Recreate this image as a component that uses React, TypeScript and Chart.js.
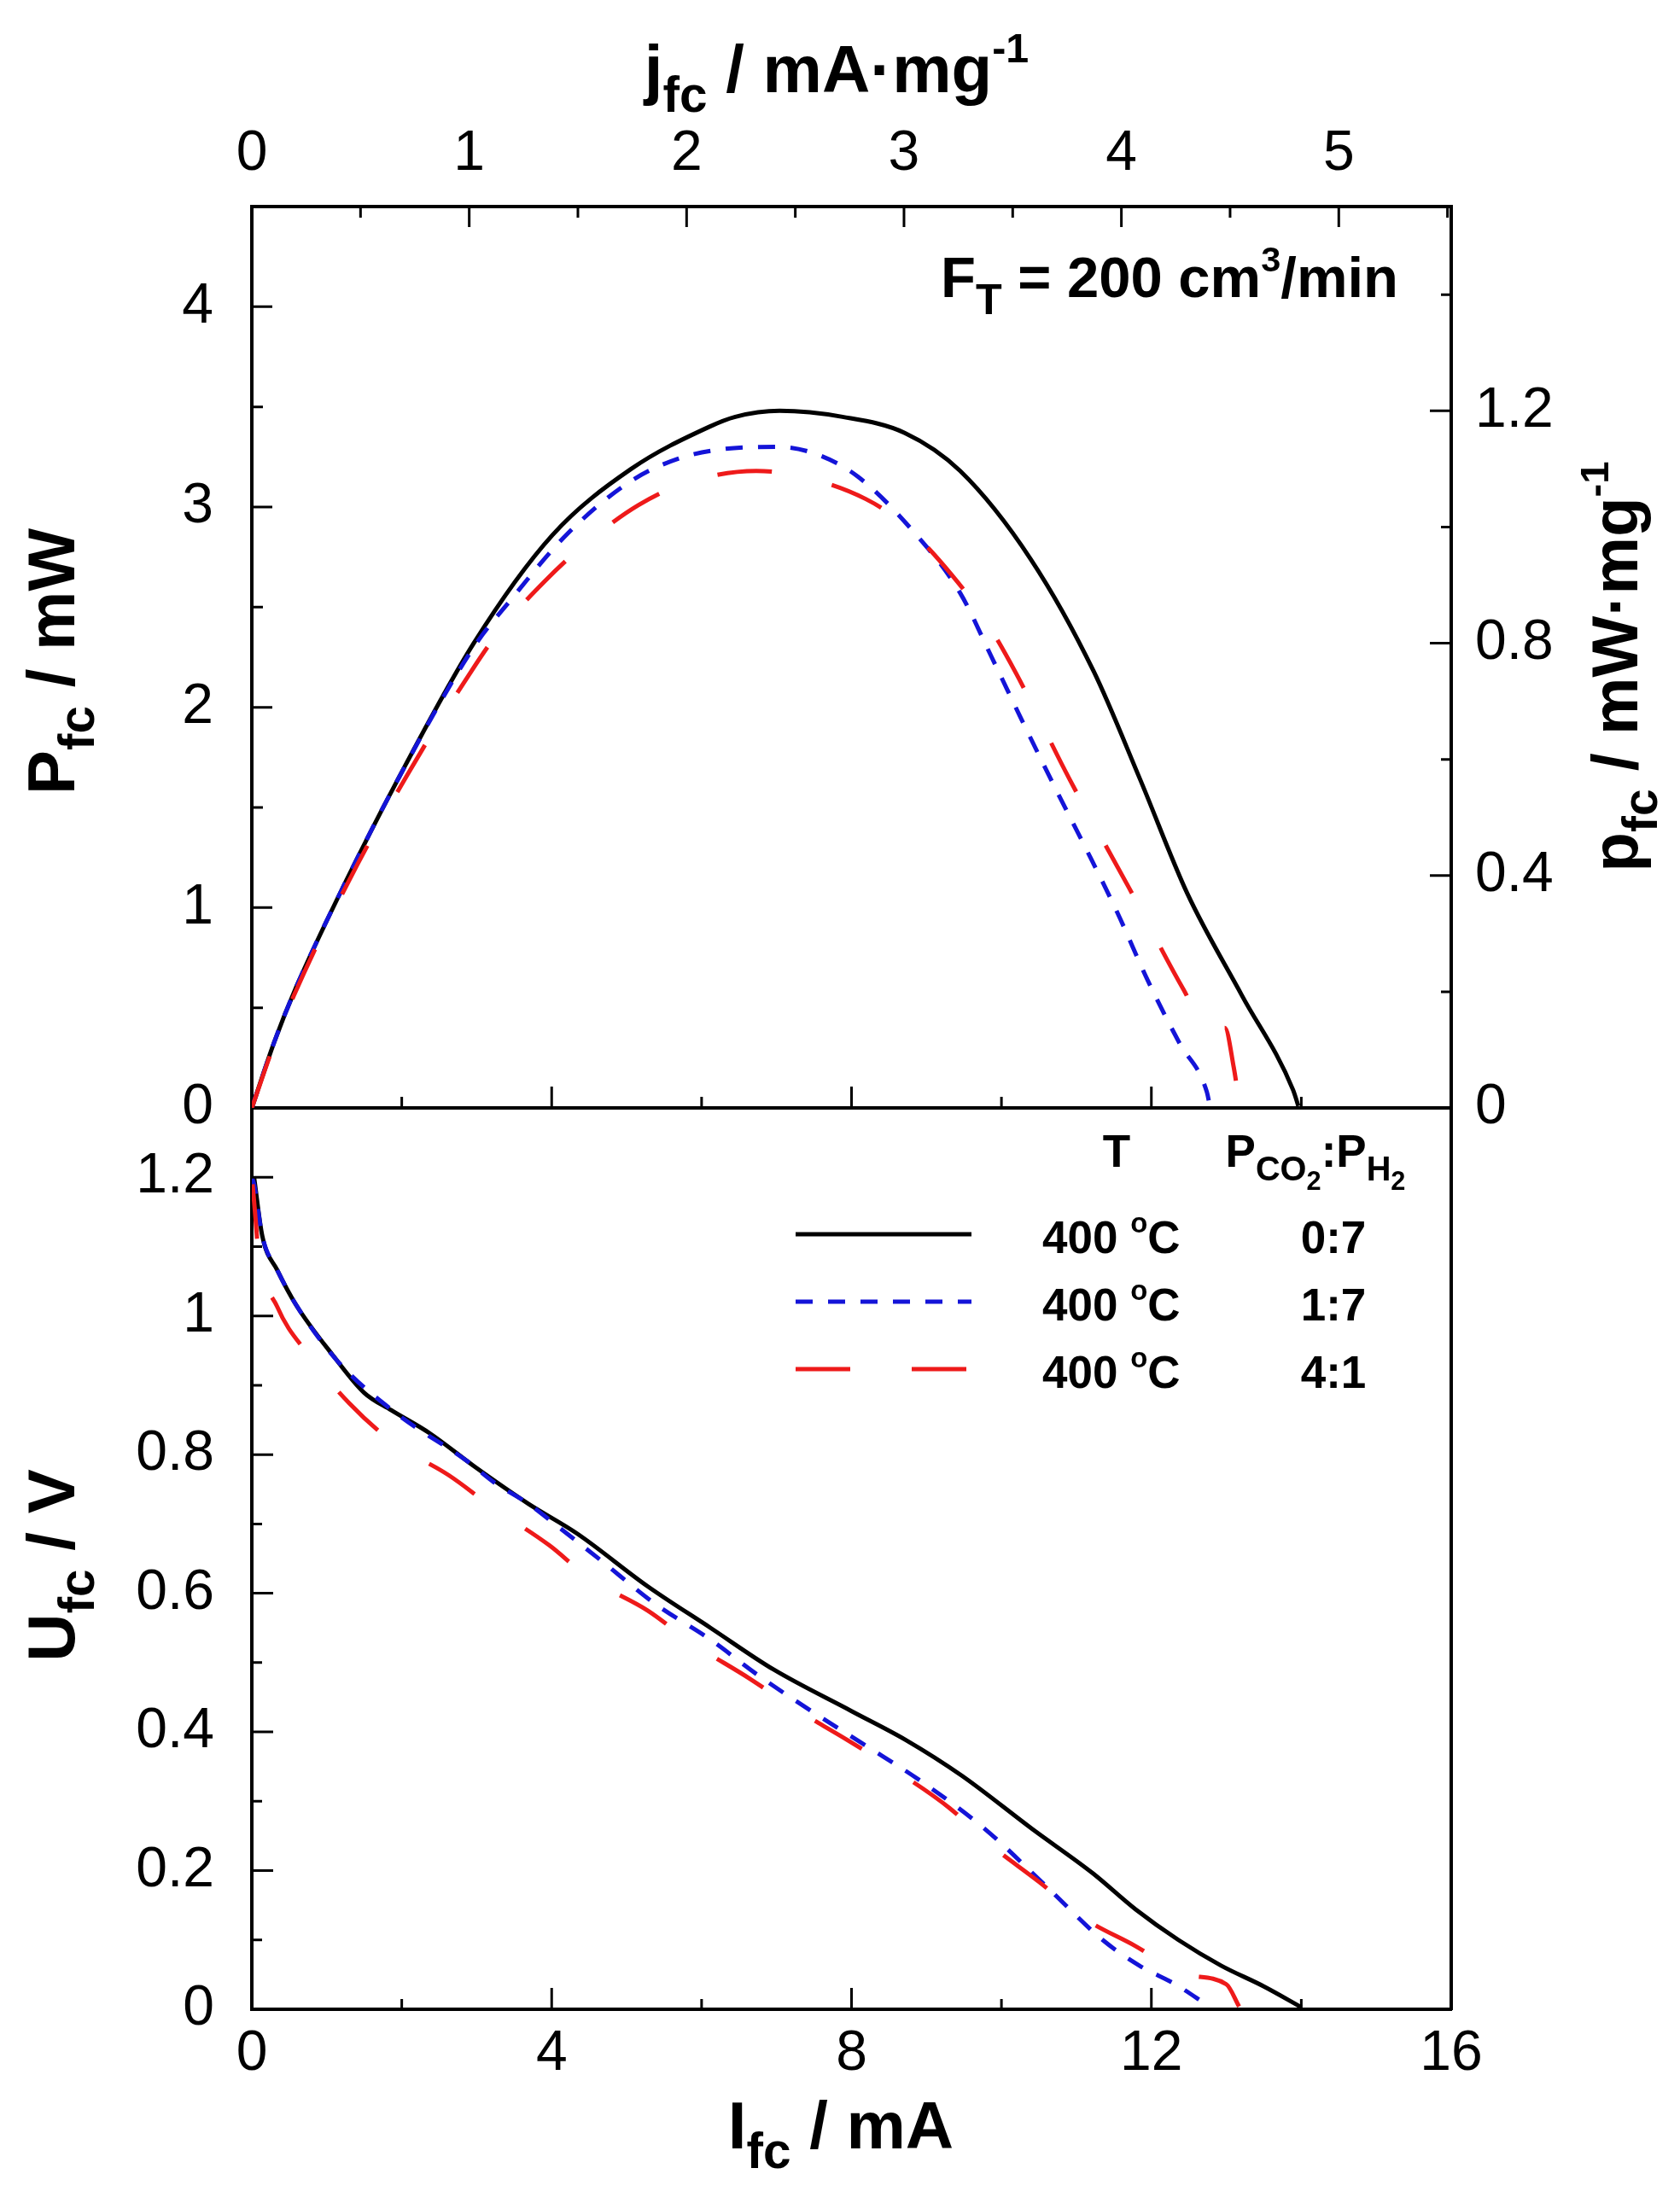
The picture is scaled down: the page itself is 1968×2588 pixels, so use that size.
// ── Fuel cell P/U vs I — two stacked panels ─────────────────

import { useEffect, useRef } from "react"
import Chart from "chart.js/auto"

// ── Page geometry (px) ───────────────────────────────────────
const W      = 1968
const H      = 2588
const LEFT   = 295
const RIGHT  = 1700
const TOP    = 242
const MID    = 1298
const BOTTOM = 2354

const FONT   = "'Liberation Sans', Arial, Helvetica, sans-serif"
const BLACK  = "#000000"
const BLUE   = "#1414d8"
const RED    = "#ee1a1a"
const LINE_W = 5
const DASH_BLUE = [20, 18]
const DASH_RED  = [64, 72]

// catalyst mass (mg), links I -> j and P -> p on the secondary axes
const MASS  = 2.9
const I_MAX = 16
const P_MAX = 4.5
const U_MAX = 1.3

// ── Data: [I_fc (mA), value] ─────────────────────────────────
const P_07: [number, number][] = [
  [0, 0], [0.3, 0.33], [0.6, 0.61], [1.24, 1.12], [1.92, 1.62], [2.96, 2.32],
  [4.01, 2.86], [5.06, 3.19], [6.1, 3.4], [6.45, 3.45], [7.04, 3.48], [7.88, 3.45],
  [8.71, 3.37], [9.45, 3.18], [10.39, 2.74], [11.23, 2.18], [11.85, 1.64],
  [12.48, 1.07], [13.21, 0.56], [13.89, 0.09], [13.96, 0.01],
]
const P_17: [number, number][] = [
  [0, 0], [0.3, 0.33], [0.6, 0.61], [1.24, 1.12], [1.92, 1.62], [2.96, 2.3],
  [3.44, 2.53], [4.22, 2.87], [5.06, 3.13], [5.68, 3.24], [6.31, 3.29], [7.04, 3.3],
  [7.56, 3.26], [8.09, 3.15], [8.82, 2.88], [9.45, 2.57], [9.87, 2.25], [10.28, 1.93],
  [10.7, 1.61], [11.12, 1.3], [11.54, 0.98], [11.96, 0.63], [12.38, 0.32],
  [12.74, 0.08], [12.78, 0.01],
]
const P_41: [number, number][] = [
  [0, 0], [0.3, 0.32], [0.56, 0.56], [1.29, 1.13], [2.07, 1.66], [2.91, 2.17],
  [3.28, 2.37], [3.91, 2.63], [4.43, 2.81], [5.16, 3.01], [5.79, 3.12], [6.73, 3.18],
  [7.36, 3.15], [8.19, 3.04], [8.71, 2.91], [9.34, 2.66], [9.76, 2.45], [10.18, 2.18],
  [10.91, 1.64], [11.7, 1.1], [12.43, 0.59], [12.79, 0.37], [12.98, 0.4],
  [13.1, 0.2], [13.17, 0.03],
]

const U_07: [number, number][] = [
  [0.03, 1.2], [0.14, 1.115], [0.34, 1.066], [0.59, 1.016], [1.09, 0.942], [1.5, 0.889],
  [1.86, 0.864], [2.37, 0.831], [2.98, 0.782], [3.69, 0.729], [4.34, 0.686], [5.28, 0.61],
  [6.12, 0.55], [6.96, 0.49], [8.0, 0.43], [8.73, 0.388], [9.47, 0.337], [10.41, 0.26],
  [11.22, 0.196], [11.79, 0.144], [12.36, 0.1], [12.93, 0.063], [13.5, 0.033], [14.0, 0.003],
]
const U_17: [number, number][] = [
  [0, 1.2], [0.03, 1.19], [0.14, 1.115], [0.34, 1.066], [0.59, 1.016], [1.15, 0.934],
  [1.92, 0.86], [2.88, 0.79], [3.23, 0.76], [3.69, 0.729], [4.04, 0.7], [4.65, 0.648],
  [5.39, 0.584], [6.12, 0.533], [6.75, 0.482], [7.58, 0.422], [8.21, 0.379], [8.94, 0.328],
  [9.78, 0.26], [10.62, 0.175], [11.35, 0.1], [11.84, 0.063], [12.32, 0.036], [12.76, 0.005],
]
const U_41: [number, number][] = [
  [0.01, 1.19], [0.05, 1.14], [0.08, 1.1], [0.34, 1.013], [0.74, 0.946], [1.3, 0.874],
  [1.88, 0.818], [2.63, 0.77], [3.2, 0.725], [3.97, 0.669], [4.5, 0.622], [5.28, 0.575],
  [5.86, 0.529], [6.64, 0.477], [7.22, 0.435], [7.95, 0.388], [8.58, 0.345], [9.31, 0.29],
  [9.83, 0.239], [10.51, 0.183], [11.09, 0.132], [11.79, 0.091], [12.45, 0.05],
  [13.0, 0.036], [13.17, 0.004],
]

// legend text
const TEMPS  = ["400", "400", "400"]
const RATIOS = ["0:7", "1:7", "4:1"]

// inward tick marks
const J_MAJOR  = [1, 2, 3, 4, 5]
const J_MINOR  = [0.5, 1.5, 2.5, 3.5, 4.5, 5.5]
const I_MAJOR  = [4, 8, 12]
const I_MINOR  = [2, 6, 10, 14]
const P_MAJOR  = [1, 2, 3, 4]
const P_MINOR  = [0.5, 1.5, 2.5, 3.5]
const PM_MAJOR = [0.4, 0.8, 1.2]
const PM_MINOR = [0.2, 0.6, 1.0, 1.4]
const U_MAJOR  = [0.2, 0.4, 0.6, 0.8, 1.0, 1.2]
const U_MINOR  = [0.1, 0.3, 0.5, 0.7, 0.9, 1.1]

// ── Rich text (sub/superscripts) ─────────────────────────────
type Seg = { t: string; m?: "sub" | "sub2" | "sup" }
const SEG_SCALE = { sub: 0.75, sub2: 0.58, sup: 0.62 }
const SEG_DY    = { sub: 0.3,  sub2: 0.5,  sup: -0.45 }

function drawRich(
  ctx: CanvasRenderingContext2D, segs: Seg[], x: number, y: number, size: number,
  align: "left" | "center" | "right" = "center", rotate = 0,
) {
  ctx.save()
  ctx.translate(x, y)
  if (rotate) ctx.rotate(rotate)
  ctx.fillStyle = BLACK
  ctx.textAlign = "left"
  ctx.textBaseline = "alphabetic"
  const parts = segs.map(s => {
    const fs = s.m ? size * SEG_SCALE[s.m] : size
    ctx.font = `bold ${fs}px ${FONT}`
    return { ...s, fs, w: ctx.measureText(s.t).width }
  })
  const total = parts.reduce((a, p) => a + p.w, 0)
  let cx = align === "center" ? -total / 2 : align === "right" ? -total : 0
  parts.forEach(p => {
    ctx.font = `bold ${p.fs}px ${FONT}`
    ctx.fillText(p.t, cx, p.m ? size * SEG_DY[p.m] : 0)
    cx += p.w
  })
  ctx.restore()
}

const J_TITLE: Seg[]  = [{ t: "j" }, { t: "fc", m: "sub" }, { t: " / mA·mg" }, { t: "-1", m: "sup" }]
const P_TITLE: Seg[]  = [{ t: "P" }, { t: "fc", m: "sub" }, { t: " / mW" }]
const PM_TITLE: Seg[] = [{ t: "p" }, { t: "fc", m: "sub" }, { t: " / mW·mg" }, { t: "-1", m: "sup" }]
const U_TITLE: Seg[]  = [{ t: "U" }, { t: "fc", m: "sub" }, { t: " / V" }]
const I_TITLE: Seg[]  = [{ t: "I" }, { t: "fc", m: "sub" }, { t: " / mA" }]
const FT_NOTE: Seg[]  = [{ t: "F" }, { t: "T", m: "sub" }, { t: " = 200 cm" }, { t: "3", m: "sup" }, { t: "/min" }]
const HEAD_T: Seg[]   = [{ t: "T" }]
const HEAD_P: Seg[]   = [
  { t: "P" }, { t: "CO", m: "sub" }, { t: "2", m: "sub2" }, { t: ":" },
  { t: "P" }, { t: "H", m: "sub" }, { t: "2", m: "sub2" },
]

// ── Plugins ──────────────────────────────────────────────────
type TickSpec = { axis: string; edge: "top" | "bottom" | "left" | "right"; values: number[]; len: number }

function innerTicks(specs: TickSpec[]) {
  return {
    id: "innerTicks",
    afterDraw(chart: any) {
      const { ctx, chartArea: a } = chart
      ctx.save()
      ctx.strokeStyle = BLACK
      ctx.lineWidth = 3
      ctx.beginPath()
      specs.forEach(s => {
        const sc = chart.scales[s.axis]
        s.values.forEach(v => {
          const p = sc.getPixelForValue(v)
          if (s.edge === "bottom") { ctx.moveTo(p, a.bottom); ctx.lineTo(p, a.bottom - s.len) }
          if (s.edge === "top")    { ctx.moveTo(p, a.top);    ctx.lineTo(p, a.top + s.len) }
          if (s.edge === "left")   { ctx.moveTo(a.left, p);   ctx.lineTo(a.left + s.len, p) }
          if (s.edge === "right")  { ctx.moveTo(a.right, p);  ctx.lineTo(a.right - s.len, p) }
        })
      })
      ctx.stroke()
      ctx.restore()
    },
  }
}

function textLayer(draw: (ctx: CanvasRenderingContext2D) => void) {
  return { id: "textLayer", afterDraw(chart: any) { draw(chart.ctx) } }
}

// ── Scale helpers ────────────────────────────────────────────
const fmt = (v: number | string) => String(Math.round(Number(v) * 10) / 10)

function axis(position: string, min: number, max: number, size: number, step?: number, padding = 0) {
  const vertical = position === "left" || position === "right"
  return {
    type: "linear",
    position,
    min,
    max,
    afterFit: (s: any) => { if (vertical) s.width = size; else s.height = size },
    grid: { display: true, drawOnChartArea: false, drawTicks: false },
    border: { display: true, color: BLACK, width: 4 },
    ticks: step === undefined ? { display: false } : {
      display: true,
      stepSize: step,
      includeBounds: false,
      autoSkip: false,
      maxRotation: 0,
      padding,
      color: BLACK,
      font: { family: FONT, size: 66 },
      callback: fmt,
    },
  }
}

const line = (data: [number, number][], color: string, dash: number[], order: number, yAxisID = "y") => ({
  data: data.map(([x, y]) => ({ x, y })),
  showLine: true,
  borderColor: color,
  backgroundColor: color,
  borderWidth: LINE_W,
  borderDash: dash,
  pointRadius: 0,
  cubicInterpolationMode: "monotone" as const,
  order,
  xAxisID: "x",
  yAxisID,
})

const baseOptions = {
  responsive: false,
  animation: false as const,
  events: [],
  layout: { padding: 0 },
  plugins: { legend: { display: false }, tooltip: { enabled: false } },
}

// ── Top panel: power ─────────────────────────────────────────
function topConfig(): any {
  return {
    type: "scatter",
    data: {
      datasets: [
        line(P_07, BLACK, [], 3),
        line(P_17, BLUE, DASH_BLUE, 2),
        line(P_41, RED, DASH_RED, 1),
      ],
    },
    options: {
      ...baseOptions,
      scales: {
        x:    axis("bottom", 0, I_MAX, H - MID),
        xTop: axis("top", 0, I_MAX / MASS, TOP, 1, 22),
        y:    axis("left", 0, P_MAX, LEFT, 1, 45),
        y2:   axis("right", 0, P_MAX / MASS, W - RIGHT, 0.4, 28),
      },
    },
    plugins: [
      innerTicks([
        { axis: "xTop", edge: "top", values: J_MAJOR, len: 24 },
        { axis: "xTop", edge: "top", values: J_MINOR, len: 13 },
        { axis: "x", edge: "bottom", values: I_MAJOR, len: 25 },
        { axis: "x", edge: "bottom", values: I_MINOR, len: 13 },
        { axis: "y", edge: "left", values: P_MAJOR, len: 24 },
        { axis: "y", edge: "left", values: P_MINOR, len: 13 },
        { axis: "y2", edge: "right", values: PM_MAJOR, len: 25 },
        { axis: "y2", edge: "right", values: PM_MINOR, len: 12 },
      ]),
      textLayer(ctx => {
        drawRich(ctx, J_TITLE, 980, 108, 78)
        drawRich(ctx, P_TITLE, 87, 775, 78, "center", -Math.PI / 2)
        drawRich(ctx, PM_TITLE, 1918, 781, 76, "center", -Math.PI / 2)
        drawRich(ctx, FT_NOTE, 1638, 348, 67, "right")
      }),
    ],
  }
}

// ── Bottom panel: voltage ────────────────────────────────────
const LEGEND_COLORS = [BLACK, BLUE, RED]
const LEGEND_DASHES = [[], DASH_BLUE, DASH_RED]

function bottomConfig(): any {
  return {
    type: "scatter",
    data: {
      datasets: [
        line(U_07, BLACK, [], 3),
        line(U_17, BLUE, DASH_BLUE, 2),
        line(U_41, RED, DASH_RED, 1),
      ],
    },
    options: {
      ...baseOptions,
      scales: {
        x:    axis("bottom", 0, I_MAX, H - BOTTOM, 4, 13),
        xTop: axis("top", 0, I_MAX, MID),
        y:    axis("left", 0, U_MAX, LEFT, 0.2, 44),
        yR:   axis("right", 0, U_MAX, W - RIGHT),
      },
    },
    plugins: [
      innerTicks([
        { axis: "x", edge: "bottom", values: I_MAJOR, len: 25 },
        { axis: "x", edge: "bottom", values: I_MINOR, len: 12 },
        { axis: "y", edge: "left", values: U_MAJOR, len: 25 },
        { axis: "y", edge: "left", values: U_MINOR, len: 12 },
      ]),
      textLayer(ctx => {
        drawRich(ctx, U_TITLE, 87, 1834, 78, "center", -Math.PI / 2)
        drawRich(ctx, I_TITLE, 985, 2517, 78)

        // legend
        drawRich(ctx, HEAD_T, 1308, 1367, 53)
        drawRich(ctx, HEAD_P, 1541, 1367, 53)
        const rows = [1446, 1525, 1604]
        rows.forEach((y, i) => {
          ctx.save()
          ctx.strokeStyle = LEGEND_COLORS[i]
          ctx.lineWidth = LINE_W
          ctx.setLineDash(LEGEND_DASHES[i])
          ctx.beginPath()
          ctx.moveTo(932, y)
          ctx.lineTo(1138, y)
          ctx.stroke()
          ctx.restore()
          drawRich(ctx, [{ t: TEMPS[i] + " " }, { t: "o", m: "sup" }, { t: "C" }], 1221, y + 22, 53, "left")
          drawRich(ctx, [{ t: RATIOS[i] }], 1562, y + 22, 53)
        })
      }),
    ],
  }
}

// ── Canvas wrapper ───────────────────────────────────────────
function Panel({ build }: { build: () => any }) {
  const ref = useRef<HTMLCanvasElement>(null)

  useEffect(() => {
    if (!ref.current) return
    const chart = new Chart(ref.current, build())
    return () => chart.destroy()
  }, [build])

  return (
    <canvas
      ref={ref}
      width={W}
      height={H}
      style={{ position: "absolute", left: 0, top: 0, width: W, height: H }}
    />
  )
}

export default function App() {
  return (
    <div style={{ position: "absolute", left: 0, top: 0, width: W, height: H, background: "#fff" }}>
      <Panel build={bottomConfig} />
      <Panel build={topConfig} />
    </div>
  )
}
